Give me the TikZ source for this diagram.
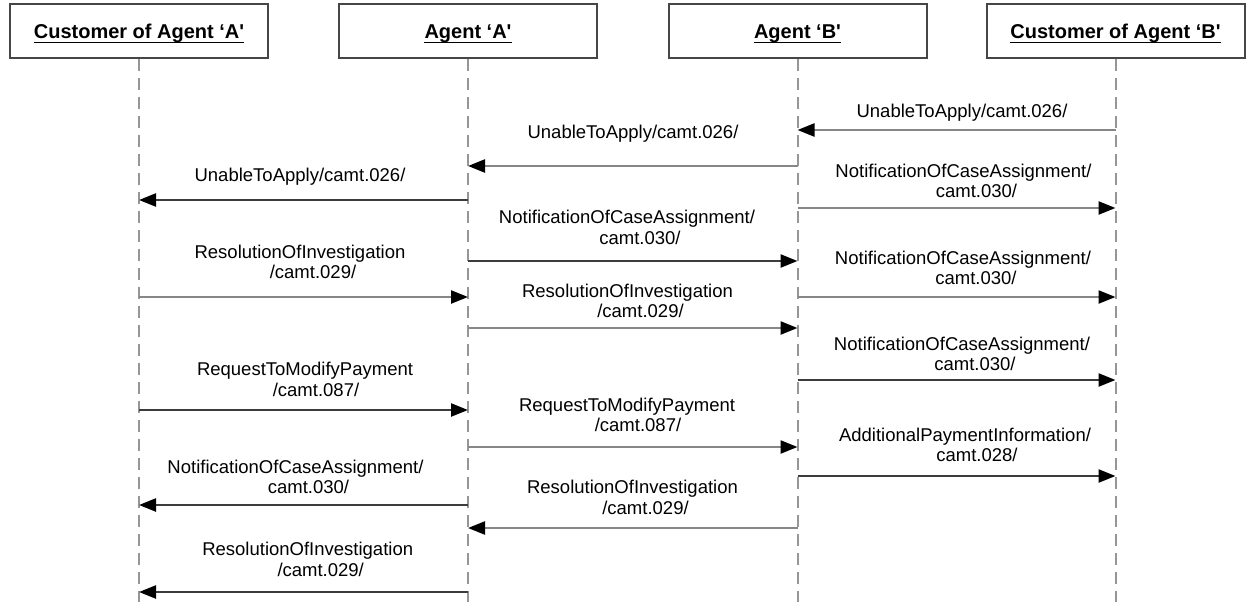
\documentclass[tikz,border=0pt]{standalone}
\usepackage{fontspec}
\newfontfamily\labfont{Liberation Sans}
\usetikzlibrary{arrows.meta}
\definecolor{lifegray}{RGB}{150,150,150}
\definecolor{msglight}{RGB}{135,135,135}
\definecolor{msgdark}{RGB}{60,60,60}
\definecolor{boxgray}{RGB}{70,70,70}
\begin{document}
\begin{tikzpicture}[x=1pt,y=-1pt,
  actor/.style={draw=boxgray, line width=2pt, minimum width=258pt, minimum height=54pt, inner sep=0pt, fill=white},
  actortext/.style={font=\labfont\bfseries\fontsize{20}{24}\selectfont, inner sep=0pt, anchor=base},
  uline/.style={line width=1.4pt, black},
  life/.style={draw=lifegray, line width=2pt, dash pattern=on 12pt off 7pt},
  msg/.style={line width=2.4pt, -{Triangle[length=17pt,width=13pt,color=black]}},
  light/.style={msg, draw=msglight},
  dark/.style={msg, draw=msgdark},
  lbl/.style={font=\labfont\fontsize{18.5}{20.5}\selectfont, align=center, inner sep=0pt},
]
\useasboundingbox[fill=white] (0,0) rectangle (1250,602);

% actor boxes
\node[actor] (b1) at (139,31) {};
\node[actor] (b2) at (468,31) {};
\node[actor] (b3) at (797.5,31) {};
\node[actor] (b4) at (1115.5,31) {};

\node[actortext] (t1) at (139,38.5) {Customer of Agent ‘A'};
\node[actortext] (t2) at (468,38.5) {Agent ‘A'};
\node[actortext] (t3) at (797.5,38.5) {Agent ‘B'};
\node[actortext] (t4) at (1115.5,38.5) {Customer of Agent ‘B'};
\foreach \t in {t1,t2,t3,t4}
  \draw[uline] ([yshift=-4pt]\t.base west) -- ([yshift=-4pt]\t.base east);

% lifelines
\foreach \i in {1,2,3,4} {
  \coordinate (e\i) at (b\i.south |- 0,602);
  \draw[life] (b\i.south) -- (e\i);
}

% messages
\draw[light] (b4 |- 0,130) -- (b3 |- 0,130);
\node[lbl] (m1) at (962,113) {UnableToApply/camt.026/};

\draw[light] (b3 |- 0,166) -- (b2 |- 0,166);
\node[lbl] (m2) at (633,134) {UnableToApply/camt.026/};

\draw[dark] (b2 |- 0,200) -- (b1 |- 0,200);
\node[lbl] (m3) at (300,177) {UnableToApply/camt.026/};

\draw[light] (b3 |- 0,208) -- (b4 |- 0,208);
\node[lbl] (m4) at (963.5,181) {NotificationOfCaseAssignment/\\\hspace*{26pt}camt.030/};

\draw[dark] (b2 |- 0,261) -- (b3 |- 0,261);
\node[lbl] (m5) at (627,227.5) {NotificationOfCaseAssignment/\\\hspace*{26pt}camt.030/};

\draw[light] (b1 |- 0,297) -- (b2 |- 0,297);
\node[lbl] (m6) at (300,262) {ResolutionOfInvestigation\\\hspace*{26pt}/camt.029/};

\draw[light] (b3 |- 0,297) -- (b4 |- 0,297);
\node[lbl] (m7) at (963,268) {NotificationOfCaseAssignment/\\\hspace*{26pt}camt.030/};

\draw[light] (b2 |- 0,328) -- (b3 |- 0,328);
\node[lbl] (m8) at (627.5,301) {ResolutionOfInvestigation\\\hspace*{26pt}/camt.029/};

\draw[dark] (b3 |- 0,380) -- (b4 |- 0,380);
\node[lbl] (m9) at (962,354) {NotificationOfCaseAssignment/\\\hspace*{26pt}camt.030/};

\draw[dark] (b1 |- 0,410) -- (b2 |- 0,410);
\node[lbl] (m10) at (305,379.5) {RequestToModifyPayment\\\hspace*{22pt}/camt.087/};

\draw[light] (b2 |- 0,447) -- (b3 |- 0,447);
\node[lbl] (m11) at (627,415) {RequestToModifyPayment\\\hspace*{22pt}/camt.087/};

\draw[dark] (b3 |- 0,476) -- (b4 |- 0,476);
\node[lbl] (m12) at (965,445) {AdditionalPaymentInformation/\\\hspace*{24pt}camt.028/};

\draw[dark] (b2 |- 0,505) -- (b1 |- 0,505);
\node[lbl] (m13) at (295.5,477) {NotificationOfCaseAssignment/\\\hspace*{26pt}camt.030/};

\draw[light] (b3 |- 0,528) -- (b2 |- 0,528);
\node[lbl] (m14) at (632.5,497.5) {ResolutionOfInvestigation\\\hspace*{26pt}/camt.029/};

\draw[dark] (b2 |- 0,592) -- (b1 |- 0,592);
\node[lbl] (m15) at (307.7,559.5) {ResolutionOfInvestigation\\\hspace*{26pt}/camt.029/};
\end{tikzpicture}
\end{document}
